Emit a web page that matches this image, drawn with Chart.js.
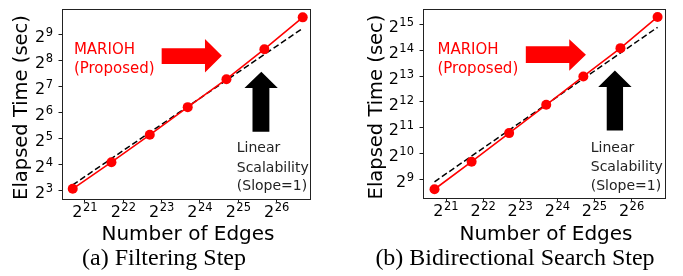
<!DOCTYPE html>
<html><head><meta charset="utf-8">
<script src="https://cdn.jsdelivr.net/npm/chart.js@4/dist/chart.umd.min.js"></script>
<style>
html,body{margin:0;padding:0;background:#fff;}
body{width:683px;height:276px;position:relative;overflow:hidden;}
.wrap{position:absolute;top:0;}
.cap{position:absolute;top:244.5px;font-family:"Liberation Serif","Times New Roman",serif;font-size:24px;line-height:24px;white-space:nowrap;text-align:center;color:#000;}
</style></head><body>
<div class="wrap" style="left:0;"><canvas id="c1" width="340" height="246"></canvas></div>
<div class="wrap" style="left:340px;"><canvas id="c2" width="343" height="246"></canvas></div>
<div class="cap" style="left:14px;width:300px">(a) Filtering Step</div>
<div class="cap" style="left:365px;width:300px">(b) Bidirectional Search Step</div>
<script>
// ---- data (log2 values) ----
const xTickExps = [21, 22, 23, 24, 25, 26];
const yTickExpsA = [3, 4, 5, 6, 7, 8, 9];
const yTickExpsB = [9, 10, 11, 12, 13, 14, 15];

const edgesLog2A = [20.68, 21.69, 22.69, 23.68, 24.69, 25.68, 26.68];
const timeLog2A  = [3.07, 4.09, 5.14, 6.20, 7.27, 8.42, 9.64];
const linearXLog2A = [20.68, 26.68];
const linearYLog2A = [3.22, 9.22];

const edgesLog2B = [20.69, 21.69, 22.70, 23.70, 24.70, 25.70, 26.70];
const timeLog2B  = [8.61, 9.68, 10.79, 11.89, 12.99, 14.09, 15.30];
const linearXLog2B = [20.69, 26.70];
const linearYLog2B = [8.90, 14.90];

const xTitle = 'Number of Edges';
const yTitle = 'Elapsed Time (sec)';
const labelMethod = ['MARIOH', '(Proposed)'];
const labelLinear = ['Linear', 'Scalability', '(Slope=1)'];

const FONT = '"DejaVu Sans", sans-serif';

function toPts(xs, ys) { return xs.map((x, i) => ({x: x, y: ys[i]})); }

function drawPow(ctx, base, exp, x, y, align) {
  ctx.textAlign = 'left'; ctx.textBaseline = 'alphabetic'; ctx.fillStyle = '#000';
  ctx.font = '16px ' + FONT; const wb = ctx.measureText(base).width;
  ctx.font = '11.5px ' + FONT; const we = ctx.measureText(exp).width;
  const total = wb + 0.5 + we;
  const sx = align === 'center' ? x - total / 2 : x - total;
  ctx.font = '16px ' + FONT; ctx.fillText(base, sx, y);
  ctx.font = '11.5px ' + FONT; ctx.fillText(exp, sx + wb + 0.5, y - 6);
}

const decoPlugin = {
  id: 'deco',
  afterDraw(chart, args, o) {
    const ctx = chart.ctx, ca = chart.chartArea;
    const xs = chart.scales.x, ys = chart.scales.y;
    const X = v => xs.getPixelForValue(v), Y = v => ys.getPixelForValue(v);
    ctx.save();
    // frame
    ctx.strokeStyle = '#222'; ctx.lineWidth = 1;
    ctx.strokeRect(Math.round(ca.left) + 0.5, Math.round(ca.top) + 0.5,
                   Math.round(ca.right - ca.left), Math.round(ca.bottom - ca.top));
    // tick labels
    xs.ticks.forEach(t => drawPow(ctx, '2', String(t.value), X(t.value), ca.bottom + 17.5, 'center'));
    ys.ticks.forEach(t => drawPow(ctx, '2', String(t.value), ca.left - 9, Y(t.value) + 7.7, 'right'));
    // axis titles
    ctx.fillStyle = '#000';
    ctx.textAlign = 'center'; ctx.textBaseline = 'alphabetic';
    ctx.font = '20px ' + FONT;
    ctx.fillText(xTitle, (ca.left + ca.right) / 2 + 2, 240);
    ctx.font = '19.5px ' + FONT;
    ctx.save();
    ctx.translate(o.yTitleX, (ca.top + ca.bottom) / 2 + 3.5);
    ctx.rotate(-Math.PI / 2);
    ctx.fillText(yTitle, 0, 0);
    ctx.restore();
    // annotations
    const a = o.ann;
    ctx.textAlign = 'left'; ctx.textBaseline = 'alphabetic';
    ctx.font = '15px ' + FONT;
    ctx.fillStyle = '#ff0000';
    labelMethod.forEach((s, i) => ctx.fillText(s, X(a.method.x), Y(a.method.y[i])));
    ctx.font = '14px ' + FONT;
    ctx.fillStyle = '#222';
    labelLinear.forEach((s, i) => ctx.fillText(s, X(a.linear.x), Y(a.linear.y[i])));
    // red right arrow
    const r = a.red;
    ctx.fillStyle = '#ff0000';
    ctx.beginPath();
    ctx.moveTo(X(r.tail), Y(r.bodyTop));
    ctx.lineTo(X(r.headBase), Y(r.bodyTop));
    ctx.lineTo(X(r.headBase), Y(r.headTop));
    ctx.lineTo(X(r.tip), Y(r.mid));
    ctx.lineTo(X(r.headBase), Y(r.headBot));
    ctx.lineTo(X(r.headBase), Y(r.bodyBot));
    ctx.lineTo(X(r.tail), Y(r.bodyBot));
    ctx.closePath(); ctx.fill();
    // black up arrow
    const b = a.black;
    ctx.fillStyle = '#000';
    ctx.beginPath();
    ctx.moveTo(X(b.shaftL), Y(b.tail));
    ctx.lineTo(X(b.shaftL), Y(b.headBase));
    ctx.lineTo(X(b.headL), Y(b.headBase));
    ctx.lineTo(X(b.mid), Y(b.tip));
    ctx.lineTo(X(b.headR), Y(b.headBase));
    ctx.lineTo(X(b.shaftR), Y(b.headBase));
    ctx.lineTo(X(b.shaftR), Y(b.tail));
    ctx.closePath(); ctx.fill();
    ctx.restore();
  }
};

function makeChart(id, d) {
  return new Chart(document.getElementById(id), {
    type: 'scatter',
    data: {
      datasets: [
        { data: toPts(d.ex, d.ty), showLine: true, borderColor: '#ff0000', backgroundColor: '#ff0000',
          borderWidth: 1.6, pointRadius: 5, pointHoverRadius: 5, pointBorderWidth: 0, order: 1 },
        { data: toPts(d.lx, d.ly), showLine: true, borderColor: '#000', borderWidth: 1.5,
          borderDash: [6, 3], pointRadius: 0, order: 2 }
      ]
    },
    options: {
      responsive: false, animation: false, events: [],
      layout: { padding: { left: 0, right: d.padRight, top: d.padTop, bottom: 0 } },
      plugins: { legend: { display: false }, tooltip: { enabled: false }, deco: { ann: d.ann, yTitleX: d.yTitleX } },
      scales: {
        x: { type: 'linear', min: d.xMin, max: d.xMax,
             afterBuildTicks: s => { s.ticks = xTickExps.map(v => ({ value: v })); },
             afterFit: s => { s.height = d.xAxisH; },
             ticks: { display: false },
             border: { display: false },
             grid: { drawOnChartArea: false, drawTicks: true, tickLength: 3.5, tickWidth: 0.9, tickColor: '#000' } },
        y: { type: 'linear', min: d.yMin, max: d.yMax,
             afterBuildTicks: s => { s.ticks = d.yTicks.map(v => ({ value: v })); },
             afterFit: s => { s.width = d.yAxisW; },
             ticks: { display: false },
             border: { display: false },
             grid: { drawOnChartArea: false, drawTicks: true, tickLength: 3.5, tickWidth: 0.9, tickColor: '#000' } }
      }
    },
    plugins: [decoPlugin]
  });
}

makeChart('c1', {
  ex: edgesLog2A, ty: timeLog2A, lx: linearXLog2A, ly: linearYLog2A, yTicks: yTickExpsA,
  xMin: 20.40, xMax: 26.87, yMin: 2.68, yMax: 9.96,
  padRight: 30, padTop: 9, xAxisH: 47, yAxisW: 62, yTitleX: 26.7,
  ann: {
    method: { x: 20.71, y: [8.23, 7.50] },
    linear: { x: 24.96, y: [4.50, 3.73, 3.03] },
    red: { tail: 23.00, headBase: 24.13, tip: 24.57, mid: 8.17, bodyTop: 8.46, bodyBot: 7.85, headTop: 8.81, headBot: 7.53 },
    black: { mid: 25.60, tip: 7.56, headBase: 6.93, headL: 25.16, headR: 26.03, shaftL: 25.37, shaftR: 25.81, tail: 5.26 }
  }
});

makeChart('c2', {
  ex: edgesLog2B, ty: timeLog2B, lx: linearXLog2B, ly: linearYLog2B, yTicks: yTickExpsB,
  xMin: 20.38, xMax: 26.90, yMin: 8.27, yMax: 15.61,
  padRight: 18, padTop: 9, xAxisH: 48, yAxisW: 83, yTitleX: 41.7,
  ann: {
    method: { x: 20.77, y: [13.86, 13.12] },
    linear: { x: 24.90, y: [10.07, 9.32, 8.58] },
    red: { tail: 23.15, headBase: 24.32, tip: 24.77, mid: 13.83, bodyTop: 14.16, bodyBot: 13.51, headTop: 14.44, headBot: 13.21 },
    black: { mid: 25.55, tip: 13.22, headBase: 12.58, headL: 25.10, headR: 26.00, shaftL: 25.33, shaftR: 25.77, tail: 10.89 }
  }
});
</script>
</body></html>
